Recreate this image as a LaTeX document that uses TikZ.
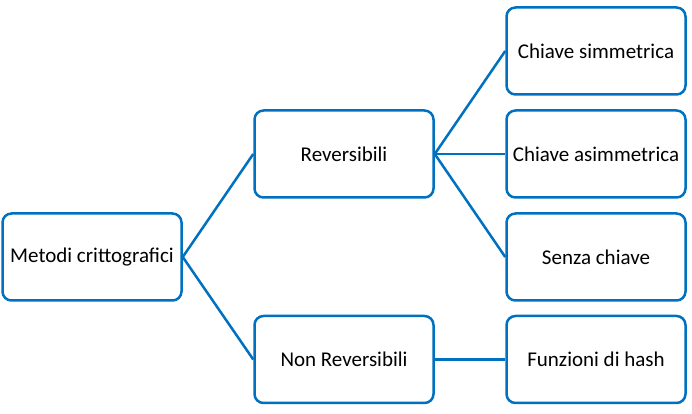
\documentclass[tikz,border=0pt]{standalone}
\usepackage{fontspec}
\setmainfont{Carlito}
\usetikzlibrary{positioning}
\definecolor{boxblue}{RGB}{0,112,192}

\begin{document}
\begin{tikzpicture}[x=1pt,y=1pt,
    box/.style={draw=boxblue, line width=2.5pt, rounded corners=9pt,
        minimum width=179pt, minimum height=87pt, align=center,
        font=\fontsize{21}{25}\selectfont},
    link/.style={draw=boxblue, line width=2.5pt},
]
\useasboundingbox (0,0) rectangle (692,414);
\node[box] (mc) at (92,157) {Metodi crittografici};
\node[box, right=70.5pt of mc, yshift=103pt] (rev) {Reversibili};
\node[box, right=70.5pt of mc, yshift=-102.5pt] (nrev) {Non Reversibili};
\node[box, right=70.5pt of rev, yshift=103pt] (sim) {Chiave simmetrica};
\node[box, right=70.5pt of rev] (asim) {Chiave asimmetrica};
\node[box, right=70.5pt of rev, yshift=-103pt] (senza) {Senza chiave};
\node[box, right=70.5pt of nrev] (hash) {Funzioni di hash};
% connectors
\draw[link] (mc.east) -- (rev.west);
\draw[link] (mc.east) -- (nrev.west);
\draw[link] (rev.east) -- (sim.west);
\draw[link] (rev.east) -- (asim.west);
\draw[link] (rev.east) -- (senza.west);
\draw[link] (nrev.east) -- (hash.west);
\end{tikzpicture}
\end{document}
